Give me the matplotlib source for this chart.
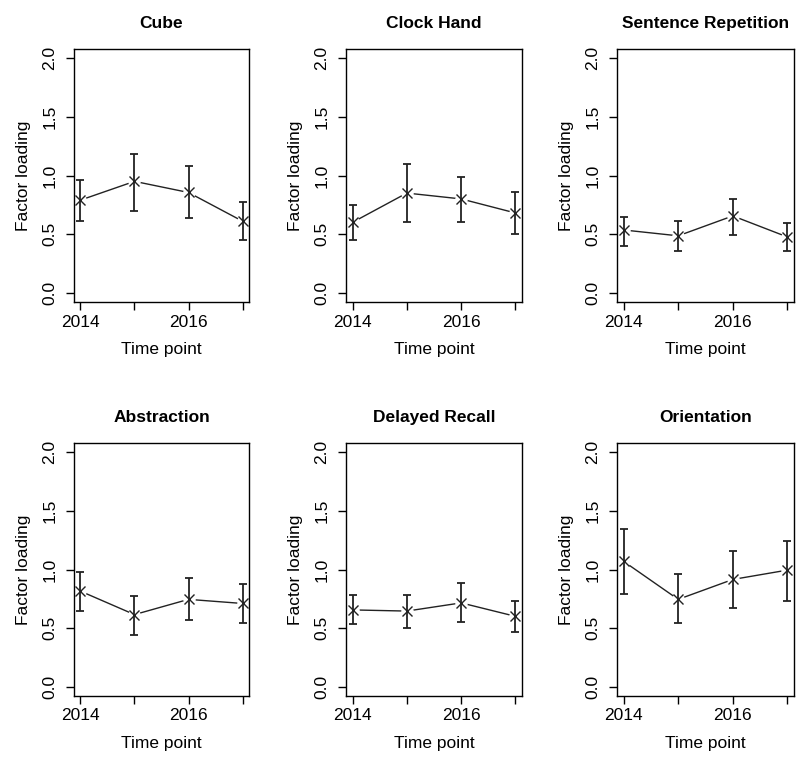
import numpy as np
import matplotlib
matplotlib.use("Agg")
import matplotlib.pyplot as plt

plt.rcParams["font.family"] = ["Liberation Sans", "DejaVu Sans"]

years = [2014, 2015, 2016, 2017]
year_labels = ["2014", "", "2016", ""]
titles = ["Cube", "Clock Hand", "Sentence Repetition", "Abstraction", "Delayed Recall", "Orientation"]

cube = [0.79, 0.95, 0.855, 0.61]
cube_lo = [0.615, 0.70, 0.635, 0.45]
cube_hi = [0.96, 1.185, 1.085, 0.77]

clock = [0.60, 0.85, 0.80, 0.68]
clock_lo = [0.45, 0.605, 0.605, 0.50]
clock_hi = [0.75, 1.095, 0.985, 0.855]

sentence = [0.535, 0.485, 0.655, 0.475]
sentence_lo = [0.395, 0.355, 0.49, 0.355]
sentence_hi = [0.645, 0.615, 0.80, 0.595]

abstraction = [0.815, 0.615, 0.745, 0.71]
abstraction_lo = [0.645, 0.445, 0.565, 0.54]
abstraction_hi = [0.975, 0.775, 0.925, 0.875]

recall = [0.655, 0.645, 0.715, 0.60]
recall_lo = [0.535, 0.50, 0.55, 0.465]
recall_hi = [0.78, 0.785, 0.885, 0.73]

orientation = [1.07, 0.745, 0.915, 0.995]
orientation_lo = [0.795, 0.54, 0.675, 0.735]
orientation_hi = [1.345, 0.96, 1.16, 1.245]

series = [(cube, cube_lo, cube_hi), (clock, clock_lo, clock_hi),
          (sentence, sentence_lo, sentence_hi), (abstraction, abstraction_lo, abstraction_hi),
          (recall, recall_lo, recall_hi), (orientation, orientation_lo, orientation_hi)]

yticks = [0.0, 0.5, 1.0, 1.5, 2.0]

W, H = 796, 761
FS = 12.5
fig = plt.figure(figsize=(W / 100, H / 100), dpi=100)
lefts = [74, 346, 617]
widths = [175, 176, 177]
tops = [49, 443]
ah = 253

for i, (title, (y, lo, hi)) in enumerate(zip(titles, series)):
    r, c = divmod(i, 3)
    ax = fig.add_axes([lefts[c] / W, 1 - (tops[r] + ah) / H, widths[c] / W, ah / H])
    y = np.array(y); lo = np.array(lo); hi = np.array(hi)
    ax.plot(years, y, color="#222222", lw=1.0, zorder=1)
    ax.plot(years, y, "o", ms=9, mfc="white", mec="none", zorder=2)
    ax.errorbar(years, y, yerr=[y - lo, hi - y], fmt="none", ecolor="#222222",
                elinewidth=1.3, capsize=3.2, capthick=1.3, zorder=3)
    ax.plot(years, y, "x", ms=6.5, mew=1.0, color="#222222", zorder=4)
    ax.set_xlim(2014 - 0.12, 2017 + 0.12)
    ax.set_ylim(-0.08, 2.08)
    ax.set_xticks(years)
    ax.set_xticklabels(year_labels, fontsize=FS)
    ax.set_yticks(yticks)
    ax.set_yticklabels([f"{v:.1f}" for v in yticks], fontsize=FS, rotation=90, va="center")
    ax.tick_params(direction="out", length=6, width=1, pad=3)
    ax.tick_params(axis="y", pad=6)
    for s in ax.spines.values():
        s.set_linewidth(1.0)
    ax.set_xlabel("Time point", fontsize=FS, labelpad=9)
    ax.set_ylabel("Factor loading", fontsize=FS, labelpad=8)
    ax.set_title(title, fontsize=FS, fontweight="bold", pad=15)

fig.savefig("out.png", dpi=100)
